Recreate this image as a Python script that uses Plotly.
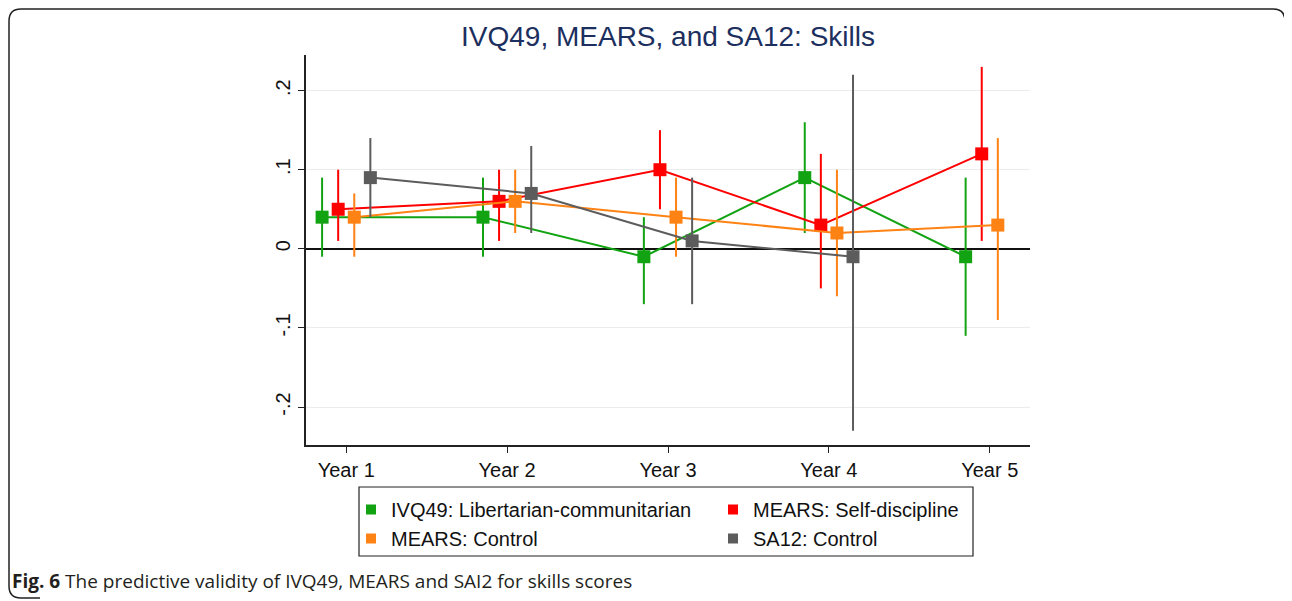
import plotly.graph_objects as go

# data (estimates + 95% CI)
years = [1, 2, 3, 4, 5]
year_labels = ['Year 1', 'Year 2', 'Year 3', 'Year 4', 'Year 5']

ivq_est = [0.04, 0.04, -0.01, 0.09, -0.01]
ivq_lo = [-0.01, -0.01, -0.07, 0.02, -0.11]
ivq_hi = [0.09, 0.09, 0.04, 0.16, 0.09]

selfdisc_est = [0.05, 0.06, 0.10, 0.03, 0.12]
selfdisc_lo = [0.01, 0.01, 0.05, -0.05, 0.01]
selfdisc_hi = [0.10, 0.10, 0.15, 0.12, 0.23]

mears_ctrl_est = [0.04, 0.06, 0.04, 0.02, 0.03]
mears_ctrl_lo = [-0.01, 0.02, -0.01, -0.06, -0.09]
mears_ctrl_hi = [0.07, 0.10, 0.09, 0.10, 0.14]

sa12_est = [0.09, 0.07, 0.01, -0.01, None]
sa12_lo = [0.04, 0.02, -0.07, -0.23, None]
sa12_hi = [0.14, 0.13, 0.09, 0.22, None]

y_ticks = [-0.2, -0.1, 0, 0.1, 0.2]
y_ticktext = ['-.2', '-.1', '0', '.1', '.2']

# name, est, lo, hi, colour, x offset, legend column
series = [
    ('IVQ49: Libertarian-communitarian', ivq_est, ivq_lo, ivq_hi, '#12a312', -0.15, 'legend'),
    ('MEARS: Self-discipline', selfdisc_est, selfdisc_lo, selfdisc_hi, '#ff0000', -0.05, 'legend2'),
    ('MEARS: Control', mears_ctrl_est, mears_ctrl_lo, mears_ctrl_hi, '#ff8214', 0.05, 'legend'),
    ('SA12: Control', sa12_est, sa12_lo, sa12_hi, '#5c5c5c', 0.15, 'legend2'),
]

FONT = 'Liberation Sans, Arial, sans-serif'

# page body has an 8px margin, so the figure is 8px smaller and shifted
OFF = 8
W, H = 1292 - OFF, 601 - OFF
L, R, T, B = 306 - OFF, 262, 55 - OFF, 156
PW, PH = W - L - R, H - T - B


# screen pixel -> paper coords
def px(x):
    return (x - OFF - L) / PW


def py(y):
    return (H - B - (y - OFF)) / PH


fig = go.Figure()

for name, est, lo, hi, color, off, lg in series:
    xs = [yr + off for yr in years]
    up = [None if e is None else h - e for e, h in zip(est, hi)]
    dn = [None if e is None else e - l for e, l in zip(est, lo)]
    fig.add_trace(go.Scatter(
        x=xs, y=est, mode='lines+markers', name=name, showlegend=False,
        line=dict(color=color, width=2),
        marker=dict(symbol='square', size=13, color=color),
        error_y=dict(type='data', array=up, arrayminus=dn, width=0,
                     thickness=2, color=color),
        connectgaps=False,
    ))

# legend entries: marker only, like the original (two columns)
for name, est, lo, hi, color, off, lg in series:
    fig.add_trace(go.Scatter(
        x=[None], y=[None], mode='markers', name=name, legend=lg,
        marker=dict(symbol='square', size=10, color=color),
    ))

# box around the two legend columns
fig.add_shape(type='rect', xref='paper', yref='paper',
              x0=px(359), x1=px(973), y0=py(556), y1=py(487),
              line=dict(color='#222222', width=1.2))

# rounded figure frame (journal panel border)
r = 12
x0, x1, y0, y1 = px(9), px(1285), py(9), py(598)
rx, ry = r / PW, r / PH
frame = (f'M {px(40)},{y1} L {x0 + rx},{y1} Q {x0},{y1} {x0},{y1 + ry} '
         f'L {x0},{y0 - ry} Q {x0},{y0} {x0 + rx},{y0} '
         f'L {x1 - rx},{y0} Q {x1},{y0} {x1},{y0 - ry} L {x1},{y1 + ry}')
fig.add_shape(type='path', path=frame, xref='paper', yref='paper',
              line=dict(color='#222222', width=1.5))

fig.add_annotation(
    text='<b>Fig. 6</b> The predictive validity of IVQ49, MEARS and SAI2 for skills scores',
    xref='paper', yref='paper', x=px(10), y=py(581), xanchor='left', yanchor='middle',
    showarrow=False, font=dict(family='Open Sans, sans-serif', size=19, color='#231f20'),
)

legend_style = dict(orientation='v', xanchor='left', yanchor='top', borderwidth=0,
                    bgcolor='rgba(0,0,0,0)', itemclick=False, tracegroupgap=0,
                    font=dict(family=FONT, size=20, color='#111111'))

fig.update_layout(
    width=W, height=H,
    margin=dict(l=L, r=R, t=T, b=B),
    paper_bgcolor='white', plot_bgcolor='white',
    title=dict(text='IVQ49, MEARS, and SA12: Skills', x=0.5, xref='paper',
               xanchor='center', y=1 - (36 - OFF) / H, yanchor='middle',
               font=dict(family=FONT, size=28, color='#1c2f5e')),
    font=dict(family=FONT, size=20, color='#111111'),
    legend=dict(x=px(351), y=py(490), **legend_style),
    legend2=dict(x=px(713), y=py(490), **legend_style),
    showlegend=True,
)

fig.update_xaxes(
    range=[0.75, 5.25], tickvals=years, ticktext=year_labels,
    showline=True, linecolor='#222222', linewidth=1.5, showgrid=False,
    ticks='outside', ticklen=6, tickcolor='#222222', zeroline=False,
)
fig.update_yaxes(
    range=[-0.248, 0.245], tickvals=y_ticks, ticktext=y_ticktext, tickangle=-90,
    showline=True, linecolor='#222222', linewidth=1.5,
    showgrid=True, gridcolor='#ececec', gridwidth=1,
    zeroline=True, zerolinecolor='#111111', zerolinewidth=2,
    ticks='outside', ticklen=6, tickcolor='#222222',
)

fig.write_html('out.html')
